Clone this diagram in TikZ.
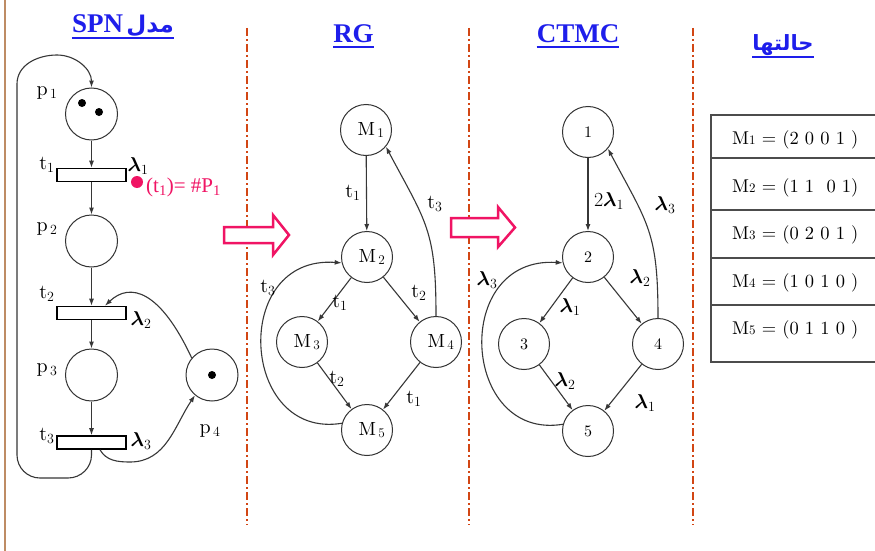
\RequirePackage{fix-cm}
\documentclass[tikz,border=0pt]{standalone}
\usepackage{bm}
\usepackage{fontspec}
\newfontfamily\arabicfont[Script=Arabic]{DejaVu Sans}
\newfontfamily\timesfont{Liberation Serif}
\newfontfamily\lmten{lmroman10-regular}[Extension=.otf,BoldFont=lmroman10-bold]
\TeXXeTstate=1
\usetikzlibrary{arrows.meta}
\definecolor{ttl}{RGB}{30,30,235}
\definecolor{pnk}{RGB}{240,20,100}
\definecolor{divc}{RGB}{210,70,20}
\definecolor{edg}{RGB}{55,55,55}
\definecolor{brd}{RGB}{190,140,100}
\tikzset{
 place/.style={circle,draw=black!80,line width=1pt,minimum size=52pt,inner sep=0pt},
 trans/.style={rectangle,draw=black,line width=1.6pt,fill=white,minimum width=69pt,minimum height=13pt,inner sep=0pt},
 rgnode/.style={circle,draw=black!80,line width=1pt,minimum size=51pt,inner sep=0pt,font=\lmten\fontsize{19}{22}\selectfont},
 ctnode/.style={circle,draw=black!80,line width=1pt,minimum size=51pt,inner sep=0pt,font=\lmten\fontsize{16}{20}\selectfont},
 lab/.style={inner sep=0pt,font=\lmten\fontsize{20}{24}\selectfont},
 arc/.style={draw=edg,line width=1.1pt,-{Latex[length=7pt,width=5pt]}},
 ttlnode/.style={inner sep=0pt,anchor=base,text=ttl},
 uline/.style={draw=ttl,line width=2pt},
 divider/.style={draw=divc,line width=1.8pt,dash pattern=on 8pt off 3pt on 2pt off 3pt},
 hollow/.style={draw=pnk,line width=2.5pt,fill=white,line join=miter},
 tabline/.style={draw=black!70,line width=1.2pt},
 tabtext/.style={inner sep=0pt,anchor=west,font=\lmten\fontsize{18.5}{22}\selectfont}
}
\newcommand{\lbl}[2]{{\lmten #1}$_{\,#2}$}
\begin{document}
\begin{tikzpicture}[x=1pt,y=-1pt]
\useasboundingbox (0,0) rectangle (875,551);
\fill[white] (0,0) rectangle (875,551);
\draw[brd,line width=1.2pt] (5,0) -- (5,551);

% dividers
\draw[divider] (247,28) -- (247,525);
\draw[divider] (469,28) -- (469,525);
\draw[divider] (693,28) -- (693,525);

% titles
\node[ttlnode] (ttlspn) at (123,33) {{\timesfont\bfseries\fontsize{27}{30}\selectfont SPN} {\arabicfont\bfseries\fontsize{23}{28}\selectfont\beginR مدل\endR}};
\draw[uline] (ttlspn.west |- 0,38) -- (ttlspn.east |- 0,38);
\node[ttlnode] (ttlrg) at (353.5,43) {\timesfont\bfseries\fontsize{27}{30}\selectfont RG};
\draw[uline] (ttlrg.west |- 0,47) -- (ttlrg.east |- 0,47);
\node[ttlnode] (ttlct) at (578,43) {\timesfont\bfseries\fontsize{27}{30}\selectfont CTMC};
\draw[uline] (ttlct.west |- 0,47) -- (ttlct.east |- 0,47);
\node[ttlnode] (ttlst) at (783,51) {\arabicfont\bfseries\fontsize{21}{26}\selectfont\beginR حالتها\endR};
\draw[uline] (ttlst.west |- 0,57) -- (ttlst.east |- 0,57);

% ---------- SPN ----------
\node[place] (p1) at (91.5,114) {};
\node[place] (p2) at (91.5,241) {};
\node[place] (p3) at (91.5,375) {};
\node[place] (p4) at (212,375) {};
\node[trans] (t1) at (91.5,175) {};
\node[trans] (t2) at (91.5,313) {};
\node[trans] (t3) at (91.5,442.5) {};
\fill (82,103) circle (4pt);
\fill (99,112) circle (4pt);
\fill (212,375) circle (4pt);

\node[lab] (lp1) at (47,93) {\lbl{p}{1}};
\node[lab] (lp2) at (47,229) {\lbl{p}{2}};
\node[lab] (lp3) at (47,370) {\lbl{p}{3}};
\node[lab] (lp4) at (210,431) {\lbl{p}{4}};
\node[lab] (lt1) at (47,165) {{\lmten t}$_{1}$};
\node[lab] (lt2) at (47,294) {{\lmten t}$_{2}$};
\node[lab] (lt3) at (47,436) {{\lmten t}$_{3}$};
\node[lab] (ll1) at (138,166) {$\bm{\lambda}_{1}$};
\node[lab] (ll2) at (141,320) {$\bm{\lambda}_{2}$};
\node[lab] (ll3) at (141,441) {$\bm{\lambda}_{3}$};

\draw[arc] (p1) -- (t1);
\draw[arc] (t1) -- (p2);
\draw[arc] (p2) -- (t2);
\draw[arc] (t2) -- (p3);
\draw[arc] (p3) -- (t3);
\draw[arc] (p4.140) .. controls (160,290) and (130,282) .. ([xshift=13.5pt]t2.north);
\draw[arc] ([xshift=8.5pt]t3.south) to[out=-60,in=180] (130,462) to[out=0,in=-124] (p4.230);
\draw[arc] (t3.south) -- (91.5,455) to[out=-90,in=0] (68,478) -- (40,478) to[out=180,in=-90] (17,455) -- (17,84) to[out=90,in=180] (57,55) to[out=0,in=90] (p1.north);

% pink annotation
\fill[pnk] (137,182) circle (6pt);
\node[inner sep=0pt,anchor=west,text=pnk,font=\timesfont\fontsize{21}{24}\selectfont] (pinktxt) at (146,187.5) {(t\textsubscript{1})= \#P\textsubscript{1}};

% hollow arrows
\draw[hollow] (224,227) -- (273,227) -- (273,215) -- (289,235) -- (273,255) -- (273,243) -- (224,243) -- cycle;
\draw[hollow] (451,218) -- (498,218) -- (498,207) -- (515,227.5) -- (498,247) -- (498,237) -- (451,237) -- cycle;

% ---------- RG ----------
\node[rgnode] (m1) at (366,130) {\hspace*{10pt}M$_{\,1}$};
\node[rgnode] (m2) at (367,257) {\hspace*{10pt}M$_{\,2}$};
\node[rgnode] (m3) at (302,342) {\hspace*{10pt}M$_{\,3}$};
\node[rgnode] (m4) at (436,342) {\hspace*{10pt}M$_{\,4}$};
\node[rgnode] (m5) at (367,430) {\hspace*{10pt}M$_{\,5}$};
\draw[arc] (m1) -- (m2);
\draw[arc] (m2) -- (m3);
\draw[arc] (m2) -- (m4);
\draw[arc] (m3) -- (m5);
\draw[arc] (m4) -- (m5);
\draw[arc] (m4.north) to[out=90,in=-62,looseness=1.25] (m1.-40);
\draw[arc] (m5.165) .. controls (240,440) and (230,255) .. (m2.193);
\node[lab] (rl1) at (353,193) {{\lmten t}$_{1}$};
\node[lab] (rl2) at (435,204) {{\lmten t}$_{3}$};
\node[lab] (rl3) at (268,288) {{\lmten t}$_{3}$};
\node[lab] (rl4) at (340,303) {{\lmten t}$_{1}$};
\node[lab] (rl5) at (419,293) {{\lmten t}$_{2}$};
\node[lab] (rl6) at (337,379) {{\lmten t}$_{2}$};
\node[lab] (rl7) at (414,399) {{\lmten t}$_{1}$};

% ---------- CTMC ----------
\node[ctnode] (s1) at (588,132) {1};
\node[ctnode] (s2) at (588,257) {2};
\node[ctnode] (s3) at (524,344) {3};
\node[ctnode] (s4) at (658,344) {4};
\node[ctnode] (s5) at (588,431) {5};
\draw[arc] (s1) -- (s2);
\draw[arc] (s2) -- (s3);
\draw[arc] (s2) -- (s4);
\draw[arc] (s3) -- (s5);
\draw[arc] (s4) -- (s5);
\draw[arc] (s4.north) to[out=90,in=-62,looseness=1.25] (s1.-40);
\draw[arc] (s5.165) .. controls (461,441) and (451,256) .. (s2.193);
\node[lab] (cl1) at (609,201) {$2\bm{\lambda}_{1}$};
\node[lab] (cl2) at (665,205) {$\bm{\lambda}_{3}$};
\node[lab] (cl3) at (487,280) {$\bm{\lambda}_{3}$};
\node[lab] (cl4) at (640,278) {$\bm{\lambda}_{2}$};
\node[lab] (cl5) at (570,307) {$\bm{\lambda}_{1}$};
\node[lab] (cl6) at (565,381) {$\bm{\lambda}_{2}$};
\node[lab] (cl7) at (645,403) {$\bm{\lambda}_{1}$};

% ---------- table ----------
\draw[tabline] (875,115) -- (711,115) -- (711,362) -- (875,362);
\draw[tabline] (711,158) -- (875,158);
\draw[tabline] (711,210) -- (875,210);
\draw[tabline] (711,258) -- (875,258);
\draw[tabline] (711,305) -- (875,305);
\node[tabtext] (r1) at (732,140) {M{\fontsize{13}{15}\selectfont 1} = (2 0 0 1 )};
\node[tabtext] (r2) at (732,188) {M{\fontsize{13}{15}\selectfont 2} = (1 1 \ 0 1)};
\node[tabtext] (r3) at (732,235) {M{\fontsize{13}{15}\selectfont 3} = (0 2 0 1 )};
\node[tabtext] (r4) at (732,283) {M{\fontsize{13}{15}\selectfont 4} = (1 0 1 0 )};
\node[tabtext] (r5) at (732,330) {M{\fontsize{13}{15}\selectfont 5} = (0 1 1 0 )};
\end{tikzpicture}
\end{document}
